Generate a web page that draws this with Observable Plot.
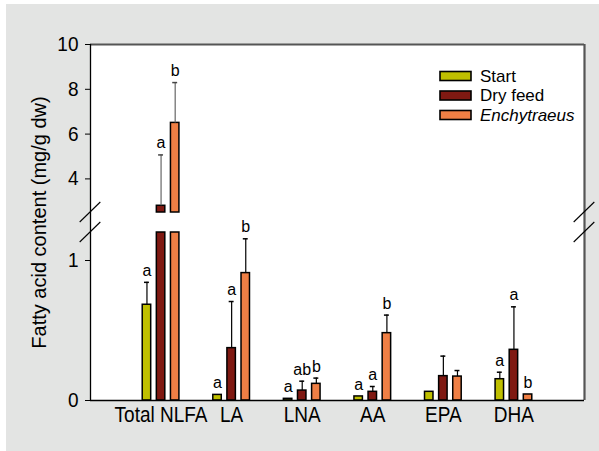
<!DOCTYPE html>
<html>
<head>
<meta charset="utf-8">
<script src="https://cdn.jsdelivr.net/npm/d3@7"></script>
<script src="https://cdn.jsdelivr.net/npm/@observablehq/plot@0.6"></script>
<style>
  html, body { margin: 0; padding: 0; background: #ffffff; }
  #panel { position: absolute; left: 6px; top: 4px; width: 593px; height: 447px; background: #e3e4e3; }
  #panel svg { display: block; }
</style>
</head>
<body>
<div id="panel"></div>
<script>
// ---- data ----
const categories = ["Total NLFA", "LA", "LNA", "AA", "EPA", "DHA"];
const seriesNames = ["Start", "Dry feed", "Enchytraeus"];
const seriesColors = ["#bfbf00", "#7f1912", "#ef7f45"];

const startMean = [0.684, 0.040, 0.012, 0.029, 0.062, 0.152];
const startErr  = [0.160, 0,     0,     0,     0,     0.050];
const dryMean   = [2.80,  0.374, 0.071, 0.062, 0.174, 0.362];
const dryErr    = [2.27,  0.333, 0.067, 0.038, 0.143, 0.307];
const enchMean  = [6.50,  0.910, 0.119, 0.481, 0.171, 0.043];
const enchErr   = [1.80,  0.245, 0.041, 0.129, 0.043, 0];

const startSig = ["a", "a", "a",  "a", "", "a"];
const drySig   = ["a", "a", "ab", "a", "", "a"];
const enchSig  = ["b", "b", "b",  "b", "", "b"];

const yTickValues = [0, 1, 4, 6, 8, 10];
const yTitle = "Fatty acid content (mg/g dw)";
const lowerTop = 1.2;     // top of the lower (broken) segment
const upperBottom = 2.5;  // bottom of the upper segment
const yMax = 10;

// ---- layout constants ----
const W = 593, H = 447;
const mL = 84, mR = 15, mT = 40, mB = 51;
const groupOffset = 0.2;  // in x units (one category = 1 unit)
const barHalf = 0.06;
const capHalf = 0.035;

const means = [startMean, dryMean, enchMean];
const errs = [startErr, dryErr, enchErr];
const sigs = [startSig, drySig, enchSig];

const rows = categories.flatMap((c, i) => seriesNames.map((s, j) => ({
  cat: c, series: s,
  xc: (i + 1) + (j - 1) * groupOffset,
  mean: means[j][i], err: errs[j][i], sig: sigs[j][i]
})));

const upperRows = rows.filter(d => d.mean > upperBottom);
const errRows = rows.filter(d => d.err > 0);
const labelRows = rows.filter(d => d.sig);

const yRange = [H - mB, 228, 208, mT];

const breakMarks = (index, scales, values, dims) => {
  const g = d3.create("svg:g");
  const xs = [scales.x(0), scales.x(categories.length + 1)];
  const ys = [scales.y(upperBottom), scales.y(lowerTop)];
  for (const x of xs) for (const y of ys) {
    g.append("line")
      .attr("x1", x - 10.3).attr("y1", y + 10)
      .attr("x2", x + 10.3).attr("y2", y - 10)
      .attr("stroke", "#000").attr("stroke-width", 1.1);
  }
  return g.node();
};

const legendMark = (index, scales, values, dims) => {
  const g = d3.create("svg:g").attr("class", "legend");
  const right = dims.width - dims.marginRight;
  const x0 = right - 144;
  const y0 = dims.marginTop + 32;
  seriesNames.forEach((s, i) => {
    const cy = y0 + i * 19.5;
    g.append("rect")
      .attr("x", x0).attr("y", cy - 4.5)
      .attr("width", 31).attr("height", 9)
      .attr("fill", seriesColors[i]).attr("stroke", "#000").attr("stroke-width", 1.6);
    g.append("text")
      .attr("x", x0 + 40).attr("y", cy + 5.5)
      .attr("font-size", 17)
      .attr("text-anchor", "start")
      .attr("font-style", s === "Enchytraeus" ? "italic" : "normal")
      .attr("fill", "#000")
      .text(s);
  });
  return g.node();
};

const chart = Plot.plot({
  width: W, height: H,
  marginLeft: mL, marginRight: mR, marginTop: mT, marginBottom: mB,
  style: { fontFamily: "Liberation Sans, Arial, sans-serif", background: "transparent", overflow: "visible" },
  x: { type: "linear", domain: [0, categories.length + 1] },
  y: { type: "linear", domain: [0, lowerTop, upperBottom, yMax], range: yRange, label: null },
  color: { domain: seriesNames, range: seriesColors },
  marks: [
    Plot.frame({ fill: "white", stroke: null }),
    Plot.rect(rows, {
      x1: d => d.xc - barHalf, x2: d => d.xc + barHalf,
      y1: 0, y2: d => Math.min(d.mean, lowerTop),
      fill: "series", stroke: "#000", strokeWidth: 1.5
    }),
    Plot.rect(upperRows, {
      x1: d => d.xc - barHalf, x2: d => d.xc + barHalf,
      y1: upperBottom, y2: d => d.mean,
      fill: "series", stroke: "#000", strokeWidth: 1.5
    }),
    Plot.ruleX(errRows, {
      x: "xc", y1: "mean", y2: d => d.mean + d.err,
      stroke: d => d.mean > upperBottom ? "#666" : "#000", strokeWidth: 1.2
    }),
    Plot.ruleY(errRows, {
      y: d => d.mean + d.err, x1: d => d.xc - capHalf, x2: d => d.xc + capHalf,
      stroke: d => d.mean > upperBottom ? "#444" : "#000", strokeWidth: 1.5
    }),
    Plot.text(labelRows, {
      x: "xc", y: d => d.mean + d.err, text: "sig",
      lineAnchor: "bottom", dy: -6.5, fontSize: 16, fill: "#000"
    }),
    Plot.ruleY([yMax], { stroke: "#555", strokeWidth: 2.2 }),
    Plot.ruleX([categories.length + 1], { stroke: "#555", strokeWidth: 2.2 }),
    Plot.ruleX([0], { stroke: "#000", strokeWidth: 1.3 }),
    Plot.ruleY([0], { stroke: "#000", strokeWidth: 1.6 }),
    breakMarks,
    Plot.axisY({ ticks: yTickValues, tickSize: 5, tickPadding: 7, fontSize: 19, label: null, tickFormat: d => String(d) }),
    Plot.axisX({ ticks: d3.range(1, categories.length + 1), tickSize: 0, tickPadding: 6.5, fontSize: 19, label: null,
                 tickFormat: i => categories[i - 1] }),
    Plot.text([yTitle], {
      frameAnchor: "left", text: d => d, rotate: -90, dx: -51.7, lineAnchor: "middle", textAnchor: "middle",
      fontSize: 20, fill: "#000"
    }),
    legendMark
  ]
});

document.getElementById("panel").appendChild(chart);

// Make text narrower/taller like the reference's condensed typeface:
// keep each text's natural width but enlarge its glyph height.
function condense(el, factor) {
  const w = el.getComputedTextLength();
  const fs = parseFloat(getComputedStyle(el).fontSize);
  el.setAttribute("font-size", fs * factor);
  el.style.fontSize = (fs * factor) + "px";
  el.setAttribute("textLength", w);
  el.setAttribute("lengthAdjust", "spacingAndGlyphs");
}
d3.select(chart).selectAll("text").each(function () {
  const t = this.textContent;
  if (t === yTitle) condense(this, 1.05);
  else if (categories.includes(t)) condense(this, 1.14);
  else if (yTickValues.map(String).includes(t)) condense(this, 1.08);
});
</script>
</body>
</html>
